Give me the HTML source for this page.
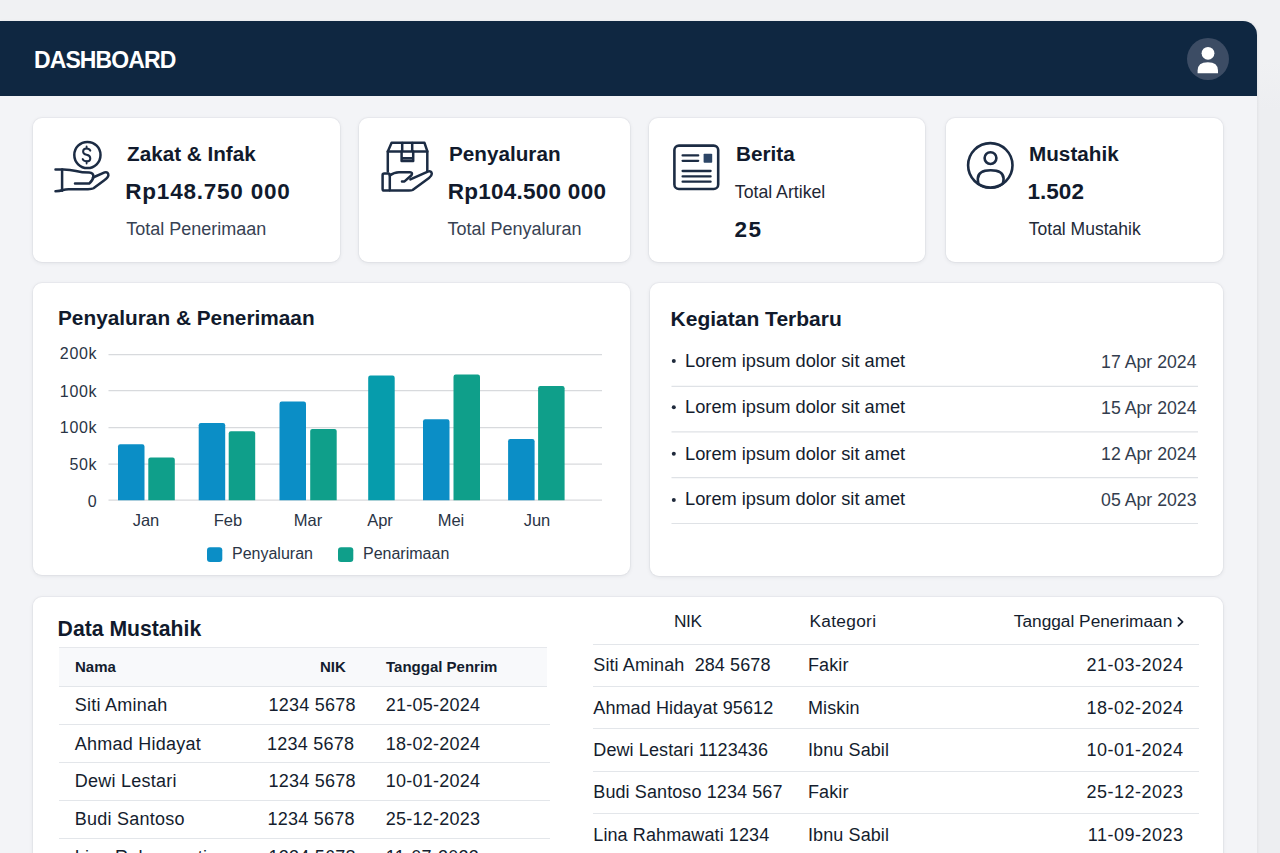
<!DOCTYPE html>
<html lang="id">
<head>
<meta charset="utf-8">
<title>Dashboard</title>
<style>
*{box-sizing:border-box;margin:0;padding:0}
html,body{width:1280px;height:853px;overflow:hidden}
body{background:#f0f1f3;font-family:"Liberation Sans",Arial,sans-serif;color:#111a2c;position:relative}
.panel{position:absolute;left:0;top:21px;width:1257px;height:840px;background:#f3f4f7;border-top-right-radius:14px;box-shadow:1px 0 3px rgba(0,0,0,.05)}
.hdr{position:absolute;left:0;top:21px;width:1257px;height:75px;background:#0f2741;border-top-right-radius:14px}
.card{position:absolute;background:#fff;border-radius:9px;box-shadow:0 1px 4px rgba(20,30,50,.085),0 0 0 1px rgba(20,30,50,.03)}
.t{position:absolute;line-height:1;white-space:nowrap}
.b{font-weight:700}
.ttl{font-size:20.7px;font-weight:700;color:#111a2c}
.big{font-size:22.5px;font-weight:700;color:#111a2c}
.sub{font-size:18px;color:#374253}
.r{text-align:right}
.ylab{font-size:16px;color:#2a3445;letter-spacing:0.7px}
.xlab{font-size:16.5px;color:#2a3445;text-align:center}
.leg{font-size:16px;color:#2a3445}
.li{font-size:18.25px;color:#141d2e}
.dt{font-size:17.7px;color:#333d4e}
.th{font-weight:700;color:#141d2e}
.td{color:#141d2e}
.th2{color:#141d2e}
svg.ov{position:absolute;left:0;top:0;width:1280px;height:853px}
</style>
</head>
<body>
<div style="position:absolute;left:1257px;top:60px;width:23px;height:793px;background:linear-gradient(#f0f1f3,#edeef1 50px)"></div>
<div class="panel"></div>
<div class="hdr"></div>
<div class="t b" style="left:34px;top:49px;font-size:23px;color:#fff;letter-spacing:-0.9px">DASHBOARD</div>

<!-- stat cards -->
<div class="card" style="left:33px;top:118px;width:307px;height:144px"></div>
<div class="card" style="left:359px;top:118px;width:271px;height:144px"></div>
<div class="card" style="left:649px;top:118px;width:276px;height:144px"></div>
<div class="card" style="left:946px;top:118px;width:277px;height:144px"></div>

<div class="t ttl" style="left:127px;top:144px">Zakat &amp; Infak</div>
<div class="t big" style="left:125.3px;top:180.8px;letter-spacing:0.78px">Rp148.750 000</div>
<div class="t sub" style="left:126.3px;top:220.4px">Total Penerimaan</div>

<div class="t ttl" style="left:449px;top:144px">Penyaluran</div>
<div class="t big" style="left:447.8px;top:180.8px;letter-spacing:0.25px">Rp104.500 000</div>
<div class="t sub" style="left:447.5px;top:220.4px">Total Penyaluran</div>

<div class="t ttl" style="left:736px;top:144px">Berita</div>
<div class="t sub" style="left:734.8px;top:183.9px;font-size:17.7px;color:#1f2735">Total Artikel</div>
<div class="t big" style="left:734.5px;top:218.9px;letter-spacing:1.6px">25</div>

<div class="t ttl" style="left:1029px;top:144px">Mustahik</div>
<div class="t big" style="left:1027.6px;top:180.8px">1.502</div>
<div class="t sub" style="left:1028.8px;top:220.8px;font-size:17.5px;color:#222a38">Total Mustahik</div>

<!-- row 2 -->
<div class="card" style="left:33px;top:283px;width:597px;height:291.5px"></div>
<div class="card" style="left:649.5px;top:283px;width:573.5px;height:293px"></div>

<div class="t ttl" style="left:58px;top:307.7px;font-size:20.8px">Penyaluran &amp; Penerimaan</div>
<div class="t ylab r" style="left:41.3px;width:56px;top:345.9px">200k</div>
<div class="t ylab r" style="left:41.3px;width:56px;top:383.5px">100k</div>
<div class="t ylab r" style="left:41.3px;width:56px;top:419.7px">100k</div>
<div class="t ylab r" style="left:41.3px;width:56px;top:457.3px">50k</div>
<div class="t ylab r" style="left:41.3px;width:56px;top:494.2px">0</div>
<div class="t xlab" style="left:106px;width:80px;top:512px">Jan</div>
<div class="t xlab" style="left:188px;width:80px;top:512px">Feb</div>
<div class="t xlab" style="left:268px;width:80px;top:512px">Mar</div>
<div class="t xlab" style="left:340px;width:80px;top:512px">Apr</div>
<div class="t xlab" style="left:411px;width:80px;top:512px">Mei</div>
<div class="t xlab" style="left:497px;width:80px;top:512px">Jun</div>
<div class="t leg" style="left:232px;top:546px">Penyaluran</div>
<div class="t leg" style="left:363px;top:546px">Penarimaan</div>

<div class="t ttl" style="left:670.6px;top:308.2px;font-size:21px">Kegiatan Terbaru</div>
<div class="t li" style="left:685px;top:352px">Lorem ipsum dolor sit amet</div>
<div class="t li" style="left:685px;top:398.1px">Lorem ipsum dolor sit amet</div>
<div class="t li" style="left:685px;top:444.6px">Lorem ipsum dolor sit amet</div>
<div class="t li" style="left:685px;top:490.4px">Lorem ipsum dolor sit amet</div>
<div class="t dt r" style="left:1000px;width:196.5px;top:353.5px">17 Apr 2024</div>
<div class="t dt r" style="left:1000px;width:196.5px;top:399.6px">15 Apr 2024</div>
<div class="t dt r" style="left:1000px;width:196.5px;top:446.1px">12 Apr 2024</div>
<div class="t dt r" style="left:1000px;width:196.5px;top:491.9px">05 Apr 2023</div>

<!-- row 3 -->
<div class="card" style="left:33px;top:597px;width:1190px;height:300px"></div>

<div class="t ttl" style="left:57.6px;top:618.2px;font-size:21.2px">Data Mustahik</div>
<div style="position:absolute;left:59px;top:646.5px;width:487.5px;height:40px;background:#f8f9fb;border-top:1px solid #e6e8ec;border-bottom:1px solid #e3e6ea"></div>
<div style="position:absolute;left:59px;top:724px;width:491px;height:1px;background:#e3e6ea"></div>
<div style="position:absolute;left:59px;top:762px;width:491px;height:1px;background:#e3e6ea"></div>
<div style="position:absolute;left:59px;top:800px;width:491px;height:1px;background:#e3e6ea"></div>
<div style="position:absolute;left:59px;top:837.5px;width:491px;height:1px;background:#e3e6ea"></div>
<div class="t th" style="left:75px;top:658.9px;font-size:15px">Nama</div>
<div class="t th" style="left:320px;top:658.9px;font-size:15px">NIK</div>
<div class="t th" style="left:386px;top:658.9px;font-size:15px">Tanggal Penrim</div>
<div class="t td" style="left:74.8px;top:696.4px;font-size:18px;letter-spacing:0.25px">Siti Aminah</div>
<div class="t td" style="left:268.5px;top:696.4px;font-size:18px;letter-spacing:0.25px">1234 5678</div>
<div class="t td" style="left:385.8px;top:696.4px;font-size:18px;letter-spacing:0.25px">21-05-2024</div>
<div class="t td" style="left:74.8px;top:734.6px;font-size:18px;letter-spacing:0.25px">Ahmad Hidayat</div>
<div class="t td" style="left:267px;top:734.6px;font-size:18px;letter-spacing:0.25px">1234 5678</div>
<div class="t td" style="left:385.8px;top:734.6px;font-size:18px;letter-spacing:0.25px">18-02-2024</div>
<div class="t td" style="left:74.8px;top:772.4px;font-size:18px;letter-spacing:0.25px">Dewi Lestari</div>
<div class="t td" style="left:268.5px;top:772.4px;font-size:18px;letter-spacing:0.25px">1234 5678</div>
<div class="t td" style="left:385.8px;top:772.4px;font-size:18px;letter-spacing:0.25px">10-01-2024</div>
<div class="t td" style="left:74.8px;top:810.0px;font-size:18px;letter-spacing:0.25px">Budi Santoso</div>
<div class="t td" style="left:267.5px;top:810.0px;font-size:18px;letter-spacing:0.25px">1234 5678</div>
<div class="t td" style="left:385.8px;top:810.0px;font-size:18px;letter-spacing:0.25px">25-12-2023</div>
<div class="t td" style="left:74.8px;top:848.0px;font-size:18px;letter-spacing:0.25px">Lina Rahmawati</div>
<div class="t td" style="left:268.5px;top:848.0px;font-size:18px;letter-spacing:0.25px">1234 5678</div>
<div class="t td" style="left:385.8px;top:848.0px;font-size:18px;letter-spacing:0.25px">11-07-2023</div>
<div style="position:absolute;left:593px;top:643.5px;width:606px;height:1px;background:#e3e6ea"></div>
<div style="position:absolute;left:593px;top:686px;width:606px;height:1px;background:#e3e6ea"></div>
<div style="position:absolute;left:593px;top:728px;width:606px;height:1px;background:#e3e6ea"></div>
<div style="position:absolute;left:593px;top:771px;width:606px;height:1px;background:#e3e6ea"></div>
<div style="position:absolute;left:593px;top:813px;width:606px;height:1px;background:#e3e6ea"></div>
<div class="t th2" style="left:674px;top:612.6px;font-size:17.3px;letter-spacing:-0.4px">NIK</div>
<div class="t th2" style="left:809.5px;top:612.6px;font-size:17.3px;letter-spacing:0.3px">Kategori</div>
<div class="t th2 r" style="left:872.3px;width:300px;top:612.6px;font-size:17.3px">Tanggal Penerimaan</div>
<div class="t td" style="left:593.3px;top:656.1px;font-size:18px;letter-spacing:0.1px">Siti Aminah&nbsp; 284 5678</div>
<div class="t td" style="left:808px;top:656.1px;font-size:18px;letter-spacing:0.1px">Fakir</div>
<div class="t td r" style="left:883.5px;width:300px;top:656.1px;font-size:18px;letter-spacing:0.5px">21-03-2024</div>
<div class="t td" style="left:593.3px;top:699.0px;font-size:18px;letter-spacing:0.1px">Ahmad Hidayat 95612</div>
<div class="t td" style="left:808px;top:699.0px;font-size:18px;letter-spacing:0.1px">Miskin</div>
<div class="t td r" style="left:883.5px;width:300px;top:699.0px;font-size:18px;letter-spacing:0.5px">18-02-2024</div>
<div class="t td" style="left:593.3px;top:741.2px;font-size:18px;letter-spacing:0.1px">Dewi Lestari 1123436</div>
<div class="t td" style="left:808px;top:741.2px;font-size:18px;letter-spacing:0.1px">Ibnu Sabil</div>
<div class="t td r" style="left:883.5px;width:300px;top:741.2px;font-size:18px;letter-spacing:0.5px">10-01-2024</div>
<div class="t td" style="left:593.3px;top:783.2px;font-size:18px;letter-spacing:0.1px">Budi Santoso 1234 567</div>
<div class="t td" style="left:808px;top:783.2px;font-size:18px;letter-spacing:0.1px">Fakir</div>
<div class="t td r" style="left:883.5px;width:300px;top:783.2px;font-size:18px;letter-spacing:0.5px">25-12-2023</div>
<div class="t td" style="left:593.3px;top:825.8px;font-size:18px;letter-spacing:0.1px">Lina Rahmawati 1234</div>
<div class="t td" style="left:808px;top:825.8px;font-size:18px;letter-spacing:0.1px">Ibnu Sabil</div>
<div class="t td r" style="left:883.5px;width:300px;top:825.8px;font-size:18px;letter-spacing:0.5px">11-09-2023</div>

<svg class="ov" viewBox="0 0 1280 853">
<circle cx="1208" cy="59" r="21" fill="#3c4c64"/>
<circle cx="1208" cy="53.3" r="6.4" fill="#fff"/>
<path d="M1197.6 73.3 V70.5 Q1197.6 62.2 1207.8 62.2 Q1218 62.2 1218 70.5 V73.3 Z" fill="#fff"/>
<g fill="none" stroke="#1c2c44" stroke-width="2.5" stroke-linecap="round" stroke-linejoin="round"><circle cx="87.4" cy="155" r="13.1"/><path d="M90.3 150.6 Q89.4 148.4 86.6 148.4 Q83.1 148.4 83.1 151.4 Q83.1 154.1 86.6 154.8 Q90.3 155.5 90.3 158.4 Q90.3 161.3 86.6 161.3 Q83.7 161.3 82.7 159.1" stroke-width="2"/><path d="M86.6 146.3 V148.3 M86.6 161.4 V163.5" stroke-width="1.8"/><path d="M55.5 169.4 H63.5 Q70 169.4 76 171 Q82 172.6 89.2 172.6 Q93.4 172.8 93.4 176.4 Q93.2 180 89.2 183.6 H75"/><path d="M93 177.5 L104.6 172.4 Q108.4 171.5 108.4 175.4 Q108 178 104 180.5 L93.5 188.3 Q92 189.2 88 189.2 H70 Q66 189 63 190 Q59.5 191.2 55.5 191.2"/><path d="M62.1 169.6 V190.8"/></g>
<g fill="none" stroke="#1c2c44" stroke-width="2.5" stroke-linecap="round" stroke-linejoin="round"><path d="M387.8 171.5 V151.4 L391.6 142.8 H424.5 L427.3 151.2 V171"/><path d="M387.8 151.4 H427.3 M402.2 143 V151.3 M412.2 143 V151.3"/><path d="M401.6 151.5 V161 H413.2 V151.5 M401.8 158.2 H413"/><rect x="382.6" y="173.6" width="7.2" height="17" rx="1.6"/><path d="M389.8 175.5 Q394 172.2 399 172.2 H410 Q413 172.4 411.5 175.2 L404.5 181.4 H402"/><path d="M410.4 179.4 L427.8 171.6 Q431.6 170.6 431.8 173.8 Q431.8 176 429 178 L412.6 190 Q411.5 190.6 409 190.6 H390"/></g>
<g fill="none" stroke="#1c2c44" stroke-width="2.6" stroke-linecap="round"><rect x="674.4" y="145.6" width="43.8" height="43.4" rx="4.5"/><path d="M682.6 155.4 H698.2 M682.6 160.8 H698.2" stroke-width="2.3"/><path d="M682.6 171 H710.6 M682.6 176.4 H710.6 M682.6 181.7 H710.6" stroke-width="2.3"/></g><rect x="703.6" y="153.8" width="8.6" height="9" rx="0.8" fill="#2c4566"/>
<g fill="none" stroke="#1c2c44" stroke-width="2.6"><circle cx="990.3" cy="165.3" r="22.2"/><circle cx="990.5" cy="158.1" r="5.9"/><path d="M978.5 184 Q977.8 181.5 977.8 178.6 Q978.2 170.3 990.6 170.3 Q1003.4 170.3 1003.6 178.6 Q1003.6 181.6 1002.6 184"/><path d="M978.5 184 Q983 188 990.6 188 Q998.2 188 1002.6 184" stroke-width="2.2"/></g>
<line x1="108.5" y1="354.6" x2="602" y2="354.6" stroke="#d8dadd" stroke-width="1.3"/>
<line x1="108.5" y1="390.7" x2="602" y2="390.7" stroke="#d8dadd" stroke-width="1.3"/>
<line x1="108.5" y1="427.6" x2="602" y2="427.6" stroke="#d8dadd" stroke-width="1.3"/>
<line x1="108.5" y1="464.2" x2="602" y2="464.2" stroke="#d8dadd" stroke-width="1.3"/>
<line x1="108.5" y1="500.2" x2="602" y2="500.2" stroke="#d8dadd" stroke-width="1.3"/>
<path d="M118 500.2 V446.5 Q118 444.3 120.2 444.3 H142.3 Q144.5 444.3 144.5 446.5 V500.2 Z" fill="#0b8ec6"/>
<path d="M148.3 500.2 V459.7 Q148.3 457.5 150.5 457.5 H172.6 Q174.8 457.5 174.8 459.7 V500.2 Z" fill="#0f9f8a"/>
<path d="M198.7 500.2 V425.2 Q198.7 423 200.9 423 H223.0 Q225.2 423 225.2 425.2 V500.2 Z" fill="#0b8ec6"/>
<path d="M228.7 500.2 V433.4 Q228.7 431.2 230.9 431.2 H253.0 Q255.2 431.2 255.2 433.4 V500.2 Z" fill="#0f9f8a"/>
<path d="M279.5 500.2 V403.7 Q279.5 401.5 281.7 401.5 H303.8 Q306.0 401.5 306.0 403.7 V500.2 Z" fill="#0b8ec6"/>
<path d="M310.2 500.2 V431.1 Q310.2 428.9 312.4 428.9 H334.5 Q336.7 428.9 336.7 431.1 V500.2 Z" fill="#0f9f8a"/>
<path d="M368.2 500.2 V377.8 Q368.2 375.6 370.4 375.6 H392.5 Q394.7 375.6 394.7 377.8 V500.2 Z" fill="#069cac"/>
<path d="M423 500.2 V421.4 Q423 419.2 425.2 419.2 H447.3 Q449.5 419.2 449.5 421.4 V500.2 Z" fill="#0b8ec6"/>
<path d="M453.5 500.2 V376.7 Q453.5 374.5 455.7 374.5 H477.8 Q480.0 374.5 480.0 376.7 V500.2 Z" fill="#0f9f8a"/>
<path d="M508.1 500.2 V441.3 Q508.1 439.1 510.3 439.1 H532.4 Q534.6 439.1 534.6 441.3 V500.2 Z" fill="#0b8ec6"/>
<path d="M538.1 500.2 V388.2 Q538.1 386 540.3 386 H562.4 Q564.6 386 564.6 388.2 V500.2 Z" fill="#0f9f8a"/>
<rect x="207" y="547.3" width="15.3" height="14.6" rx="3" fill="#0b8ec6"/>
<rect x="338" y="547.3" width="15.3" height="14.6" rx="3" fill="#0f9f8a"/>
<circle cx="673.8" cy="361" r="2" fill="#1f2a3c"/>
<circle cx="673.8" cy="407.2" r="2" fill="#1f2a3c"/>
<circle cx="673.8" cy="453.7" r="2" fill="#1f2a3c"/>
<circle cx="673.8" cy="499.9" r="2" fill="#1f2a3c"/>
<line x1="671.5" y1="386.3" x2="1198" y2="386.3" stroke="#dfe2e6" stroke-width="1.2"/>
<line x1="671.5" y1="431.8" x2="1198" y2="431.8" stroke="#dfe2e6" stroke-width="1.2"/>
<line x1="671.5" y1="477.7" x2="1198" y2="477.7" stroke="#dfe2e6" stroke-width="1.2"/>
<line x1="671.5" y1="523.5" x2="1198" y2="523.5" stroke="#dfe2e6" stroke-width="1.2"/>
<path d="M1178.4 617.9 L1182.6 621.9 L1178.4 625.9" fill="none" stroke="#141d2e" stroke-width="1.7" stroke-linecap="round" stroke-linejoin="round"/>
</svg>
</body>
</html>
